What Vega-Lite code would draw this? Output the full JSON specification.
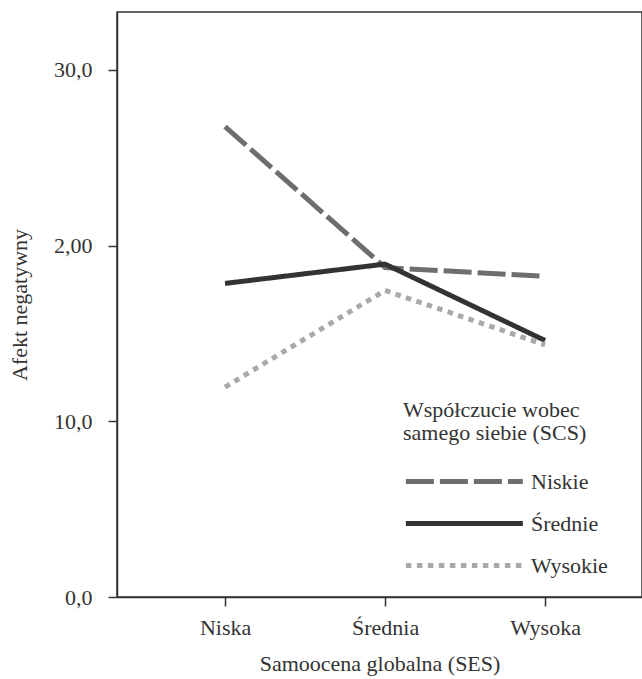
{
  "$schema": "https://vega.github.io/schema/vega-lite/v6.json",
  "width": 525,
  "height": 585,
  "autosize": "none",
  "padding": {"left": 117, "top": 12, "right": 0, "bottom": 82},
  "background": "white",
  "config": {
    "font": "Liberation Serif",
    "view": {"stroke": "#333333", "strokeWidth": 1.5},
    "axis": {"domainColor": "#333333", "domainWidth": 1.5, "tickColor": "#333333", "tickWidth": 1.5, "grid": false, "labelColor": "#333333", "titleColor": "#333333", "labelFont": "Liberation Serif", "titleFont": "Liberation Serif", "titleFontWeight": "normal"}
  },
  "data": {
    "values": [
      {"ses": "Niska", "scs": "Niskie", "v": 26.78},
      {"ses": "Średnia", "scs": "Niskie", "v": 18.75},
      {"ses": "Wysoka", "scs": "Niskie", "v": 18.25},
      {"ses": "Niska", "scs": "Średnie", "v": 17.85},
      {"ses": "Średnia", "scs": "Średnie", "v": 18.95},
      {"ses": "Wysoka", "scs": "Średnie", "v": 14.6},
      {"ses": "Niska", "scs": "Wysokie", "v": 11.95},
      {"ses": "Średnia", "scs": "Wysokie", "v": 17.45},
      {"ses": "Wysoka", "scs": "Wysokie", "v": 14.35}
    ]
  },
  "mark": {"type": "line", "strokeWidth": 5, "strokeCap": "butt"},
  "encoding": {
    "x": {
      "field": "ses", "type": "ordinal",
      "sort": ["Niska", "Średnia", "Wysoka"],
      "scale": {"type": "point", "padding": 0.640625, "align": 0.527},
      "axis": {"title": "Samoocena globalna (SES)", "labelAngle": 0, "labelFontSize": 22, "titleFontSize": 22, "tickSize": 9, "labelPadding": 11, "titlePadding": 15, "domain": true}
    },
    "y": {
      "field": "v", "type": "quantitative",
      "scale": {"domain": [0, 33.3], "nice": false, "zero": true},
      "axis": {"title": "Afekt negatywny", "values": [0, 10, 20, 30], "labelExpr": "datum.value == 0 ? '0,0' : datum.value == 10 ? '10,0' : datum.value == 20 ? '2,00' : '30,0'", "labelFontSize": 22, "titleFontSize": 22, "tickSize": 9, "labelPadding": 16, "titlePadding": 22}
    },
    "color": {
      "field": "scs", "type": "nominal",
      "sort": ["Niskie", "Średnie", "Wysokie"],
      "scale": {"domain": ["Niskie", "Średnie", "Wysokie"], "range": ["#6e6e70", "#333333", "#a9a9ab"]},
      "legend": {
        "title": ["Współczucie wobec", "samego siebie (SCS)"],
        "orient": "none", "legendX": 286, "legendY": 388,
        "titleFontSize": 22, "titleFontWeight": "normal", "titleColor": "#333333", "titleFont": "Liberation Serif", "titleLineHeight": 23, "titlePadding": 19, "titleLimit": 400,
        "labelFontSize": 22, "labelColor": "#333333", "labelFont": "Liberation Serif", "labelOffset": 93, "labelLimit": 300,
        "symbolType": "M-1,0H7", "symbolSize": 855, "symbolStrokeWidth": 5, "symbolFillColor": "transparent", "rowPadding": 13
      }
    },
    "strokeDash": {
      "field": "scs", "type": "nominal",
      "sort": ["Niskie", "Średnie", "Wysokie"],
      "scale": {"domain": ["Niskie", "Średnie", "Wysokie"], "range": [[28, 6], [1, 0], [5.5, 5.5]]},
      "legend": null
    }
  }
}
